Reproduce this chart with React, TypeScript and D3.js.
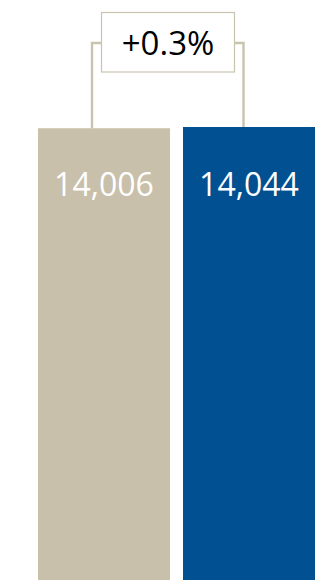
import React from "react";
import * as d3 from "d3";

const categories = ["Prior", "Current"];
const values = [14006, 14044];
const changeLabel = "+0.3%";
const colors = ["#C8C0AA", "#005092"];

const W = 334;
const H = 580;

export default function App() {
  const x = d3
    .scaleBand<string>()
    .domain(categories)
    .range([38, 315])
    .paddingInner(13 / 145)
    .paddingOuter(0);
  const y = d3.scaleLinear().domain([0, d3.max(values) as number]).range([H, 127]);
  const fmt = d3.format(",");

  const boxX0 = 101.5;
  const boxX1 = 234.5;
  const boxY0 = 12.5;
  const boxY1 = 72;
  const connY = 43;
  const leftX = 92;
  const rightX = 243.5;
  const stroke = "#CAC3AE";

  return (
    <svg
      width={W}
      height={H}
      style={{ position: "absolute", left: 0, top: 0, display: "block" }}
      fontFamily="'Open Sans', sans-serif"
    >
      {categories.map((c, i) => (
        <g key={c}>
          <rect
            x={x(c)}
            y={y(values[i])}
            width={x.bandwidth()}
            height={H - y(values[i])}
            fill={colors[i]}
          />
          <text
            x={(x(c) as number) + x.bandwidth() / 2}
            y={195.5}
            textAnchor="middle"
            fill="#ffffff"
            fontSize={32}
          >
            {fmt(values[i])}
          </text>
        </g>
      ))}
      <path
        d={`M${leftX},${y(values[0])} V${connY} H${boxX0}`}
        fill="none"
        stroke={stroke}
        strokeWidth={2.4}
      />
      <path
        d={`M${rightX},${y(values[1])} V${connY} H${boxX1}`}
        fill="none"
        stroke={stroke}
        strokeWidth={2.4}
      />
      <rect
        x={boxX0}
        y={boxY0}
        width={boxX1 - boxX0}
        height={boxY1 - boxY0}
        fill="#ffffff"
        stroke={stroke}
        strokeWidth={1.2}
      />
      <text
        x={(boxX0 + boxX1) / 2}
        y={54.5}
        textAnchor="middle"
        fill="#000000"
        fontSize={33}
      >
        {changeLabel}
      </text>
    </svg>
  );
}
